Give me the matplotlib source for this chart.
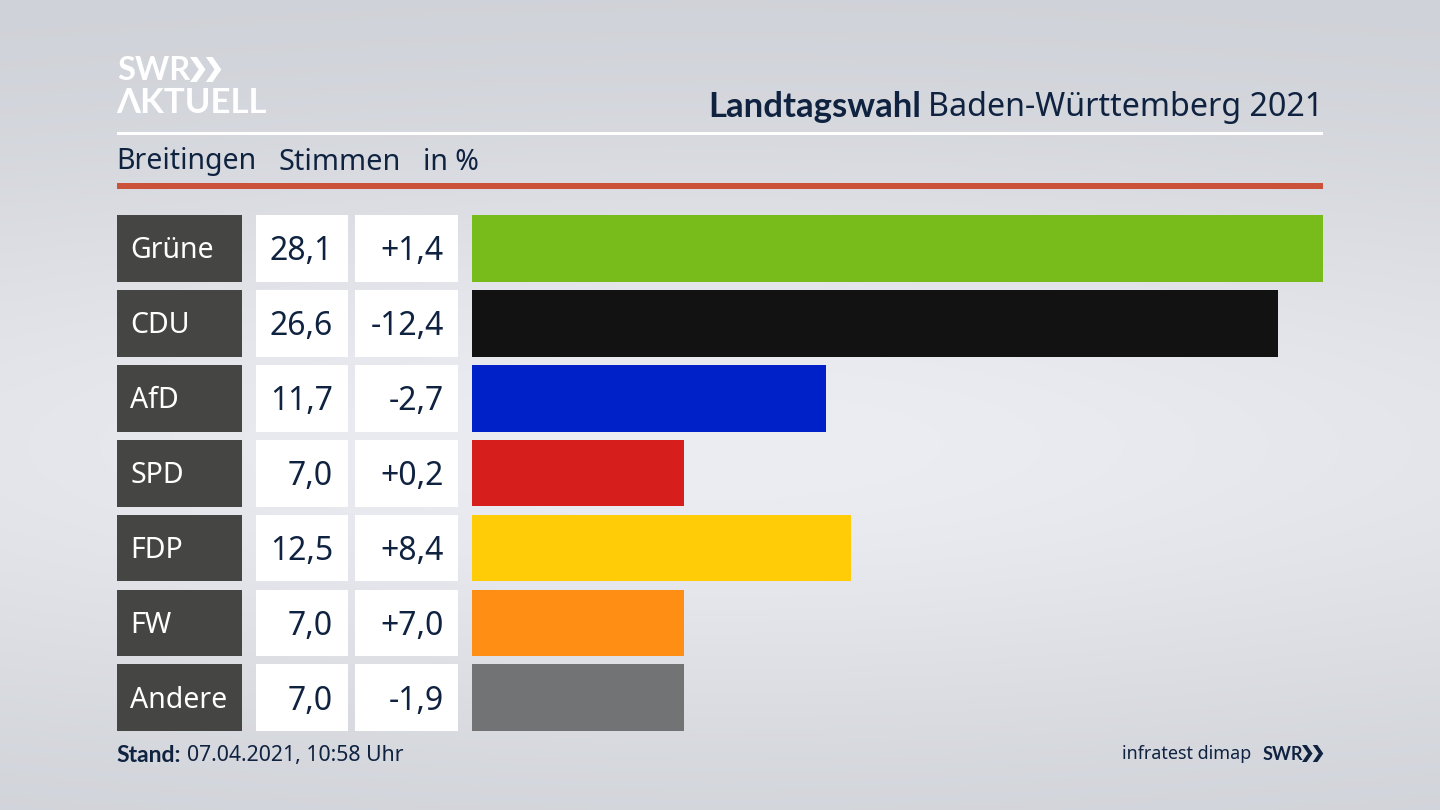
import matplotlib
matplotlib.use('Agg')
import matplotlib.pyplot as plt
from matplotlib.patches import Polygon, Rectangle
import numpy as np

plt.rcParams['font.family'] = ['Noto Sans', 'DejaVu Sans']
BOLD = ['Lato', 'DejaVu Sans']

parties = ['Grüne', 'CDU', 'AfD', 'SPD', 'FDP', 'FW', 'Andere']
shares = [28.1, 26.6, 11.7, 7.0, 12.5, 7.0, 7.0]
changes = ['+1,4', '-12,4', '-2,7', '+0,2', '+8,4', '+7,0', '-1,9']
bar_colors = ['#78BC1B', '#121212', '#0020C8', '#D61F1C', '#FFCC07', '#FF8F14', '#727374']

NAVY = '#0F2240'
W, H = 1440, 810
ROW_PITCH = 74.9
ROW_H = 66.8
ROW_TOP = 215


def chevrons(ax, x, y, h, color):
    """Double chevron of the SWR logo, x/y is the top left corner in pixels."""
    w = h * 0.62
    t = h * 0.27
    for off in (0, w * 1.02):
        x0 = x + off
        ax.add_patch(Polygon([(x0, y), (x0 + t, y), (x0 + w, y + h / 2),
                              (x0 + t, y + h), (x0, y + h), (x0 + w - t, y + h / 2)],
                             closed=True, color=color, lw=0))


fig = plt.figure(figsize=(14.4, 8.1), dpi=100)

# page in pixel coordinates, y pointing down
page = fig.add_axes([0, 0, 1, 1])
page.set_xlim(0, W)
page.set_ylim(H, 0)
page.axis('off')

# soft light band through the middle of the background
yy, xx = np.mgrid[0:1:162j, 0:1:288j]
glow = np.exp(-((yy - 0.55) / 0.36) ** 2) * (0.55 + 0.45 * np.exp(-((xx - 0.5) / 0.55) ** 2))
top = np.array([205, 208, 214]) / 255
light = np.array([236, 237, 242]) / 255
bg = top + (light - top) * glow[..., None]
page.imshow(bg, extent=[0, W, H, 0], aspect='auto', interpolation='bilinear', zorder=0)

# logo
page.text(117, 70, 'SWR', fontsize=23.5, fontweight='bold', family=BOLD, color='white', va='center', ha='left')
chevrons(page, 190, 57, 25, 'white')
page.text(116, 103, 'ΛKTUELL', fontsize=25, fontweight='bold', family=BOLD, color='white', va='center', ha='left')

# header
page.text(1323, 107, 'Baden-Württemberg 2021', fontsize=23.2, color=NAVY, va='center', ha='right')
page.text(921, 107, 'Landtagswahl', fontsize=25, fontweight='bold', family=BOLD, color=NAVY, va='center', ha='right')
page.add_patch(Rectangle((117, 132), 1206, 3, color='white', lw=0))
page.text(116, 162, 'Breitingen', fontsize=20.5, color=NAVY, va='center', ha='left')
page.text(279, 162, 'Stimmen', fontsize=20.8, color=NAVY, va='center', ha='left')
page.text(423, 162, 'in %', fontsize=20.5, color=NAVY, va='center', ha='left')
page.add_patch(Rectangle((117, 183), 1206, 6, color='#CB5238', lw=0))

# table cells left of the bars
for i, (party, share, change) in enumerate(zip(parties, shares, changes)):
    y = ROW_TOP + i * ROW_PITCH
    yc = y + ROW_H / 2
    page.add_patch(Rectangle((117, y), 124.5, ROW_H, color='#454543', lw=0, zorder=2))
    page.add_patch(Rectangle((256, y), 92, ROW_H, color='white', lw=0, zorder=2))
    page.add_patch(Rectangle((355, y), 103, ROW_H, color='white', lw=0, zorder=2))
    page.text(130, yc + 2.5, party, fontsize=20.5, color='white', va='center', ha='left', zorder=3)
    page.text(333, yc + 3.5, f'{share:.1f}'.replace('.', ','), fontsize=23, color=NAVY,
              va='center', ha='right', zorder=3)
    page.text(444, yc + 3.5, change, fontsize=23, color=NAVY, va='center', ha='right', zorder=3)

# footer
page.text(116, 755, 'Stand:', fontsize=16.5, fontweight='bold', family=BOLD, color=NAVY, va='center', ha='left')
page.text(187, 755, '07.04.2021, 10:58 Uhr', fontsize=15.3, color=NAVY, va='center', ha='left')
page.text(1251, 754, 'infratest dimap', fontsize=12.9, color=NAVY, va='center', ha='right')
page.text(1263, 754, 'SWR', fontsize=13, fontweight='bold', family=BOLD, color=NAVY, va='center', ha='left')
chevrons(page, 1302, 745, 17, NAVY)

# bars, scaled so the largest share reaches the right margin
ax = fig.add_axes([472 / W, 1 - (ROW_TOP + 6 * ROW_PITCH + ROW_H) / H,
                   (1323 - 472) / W, (6 * ROW_PITCH + ROW_H) / H])
ax.patch.set_alpha(0)
ax.barh(range(len(parties)), shares, height=ROW_H / ROW_PITCH, color=bar_colors)
ax.set_xlim(0, max(shares))
ax.set_ylim(6 + ROW_H / ROW_PITCH / 2, -ROW_H / ROW_PITCH / 2)
ax.axis('off')

fig.savefig('out.png', dpi=100)
